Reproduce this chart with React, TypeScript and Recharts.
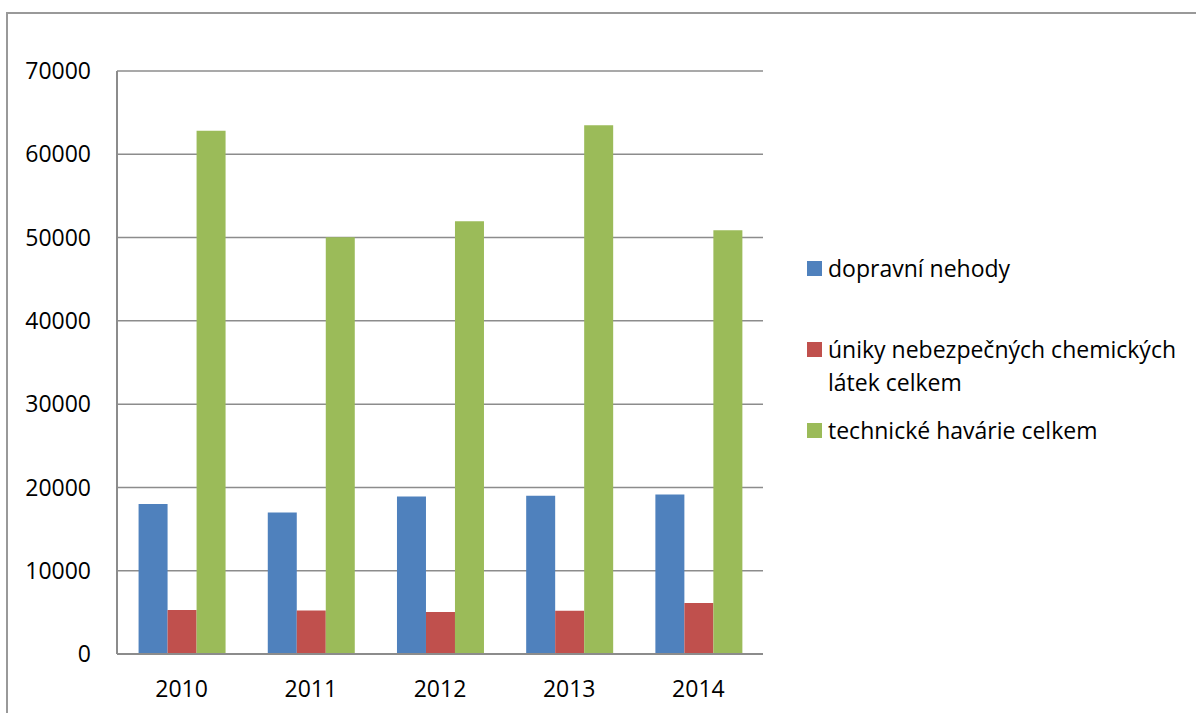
import { BarChart, Bar, XAxis, YAxis, CartesianGrid, Legend } from 'recharts';

const years = ['2010', '2011', '2012', '2013', '2014'];
const dopravniNehody = [18000, 17000, 18900, 19000, 19150];
const unikyLatek = [5280, 5230, 5040, 5200, 6120];
const technickeHavarie = [62830, 50050, 51960, 63480, 50880];
const yTicks = [0, 10000, 20000, 30000, 40000, 50000, 60000, 70000];

const seriesNames = ['dopravní nehody', 'úniky nebezpečných chemických látek celkem', 'technické havárie celkem'];
const seriesColors = ['#4f81bd', '#c0504d', '#9bbb59'];

const data = years.map((year, i) => ({
  year,
  a: dopravniNehody[i],
  b: unikyLatek[i],
  c: technickeHavarie[i],
}));

const FONT = '"Open Sans", sans-serif';

// legend drawn in series order (recharts 3 sorts payload by name otherwise)
function LegendBox() {
  return (
    <div style={{ width: 370, fontFamily: FONT, fontSize: 23, lineHeight: '33px', color: '#000' }}>
      {seriesNames.map((name, i) => (
        <div key={name} style={{ display: 'flex', alignItems: 'flex-start', height: 81 }}>
          <span
            style={{
              width: 15,
              height: 15,
              marginTop: 9,
              marginRight: 6,
              background: seriesColors[i],
              flex: 'none',
            }}
          />
          <span style={{ width: 350 }}>{name}</span>
        </div>
      ))}
    </div>
  );
}

export default function App() {
  return (
    <div style={{ position: 'absolute', left: 0, top: 0, width: 1196, height: 713, overflow: 'hidden', background: '#fff' }}>
      <div
        style={{
          position: 'absolute',
          left: 6,
          top: 12,
          width: 1300,
          height: 800,
          border: '2px solid #999',
        }}
      />
      <BarChart
        width={1196}
        height={713}
        data={data}
        margin={{ top: 71, right: 433, bottom: 29, left: 17 }}
        barCategoryGap="16.7%"
        barGap={0}
        style={{ position: 'absolute', left: 0, top: 0 }}
      >
        <CartesianGrid vertical={false} stroke="#8c8c8c" strokeWidth={1.5} />
        <XAxis
          dataKey="year"
          height={30}
          axisLine={{ stroke: '#8c8c8c', strokeWidth: 2 }}
          tickLine={false}
          tickSize={0}
          tickMargin={27}
          tick={{ fill: '#000', fontSize: 23, fontFamily: FONT }}
        />
        <YAxis
          width={100}
          domain={[0, 70000]}
          ticks={yTicks}
          interval={0}
          axisLine={{ stroke: '#8c8c8c', strokeWidth: 2 }}
          tickLine={false}
          tickSize={0}
          tickMargin={26}
          tick={{ fill: '#000', fontSize: 23, fontFamily: FONT }}
        />
        <Legend
          layout="vertical"
          align="center"
          verticalAlign="middle"
          content={<LegendBox />}
          wrapperStyle={{ left: 807, top: 252, width: 380 }}
        />
        <Bar dataKey="a" name={seriesNames[0]} fill={seriesColors[0]} isAnimationActive={false} />
        <Bar dataKey="b" name={seriesNames[1]} fill={seriesColors[1]} isAnimationActive={false} />
        <Bar dataKey="c" name={seriesNames[2]} fill={seriesColors[2]} isAnimationActive={false} />
      </BarChart>
    </div>
  );
}
